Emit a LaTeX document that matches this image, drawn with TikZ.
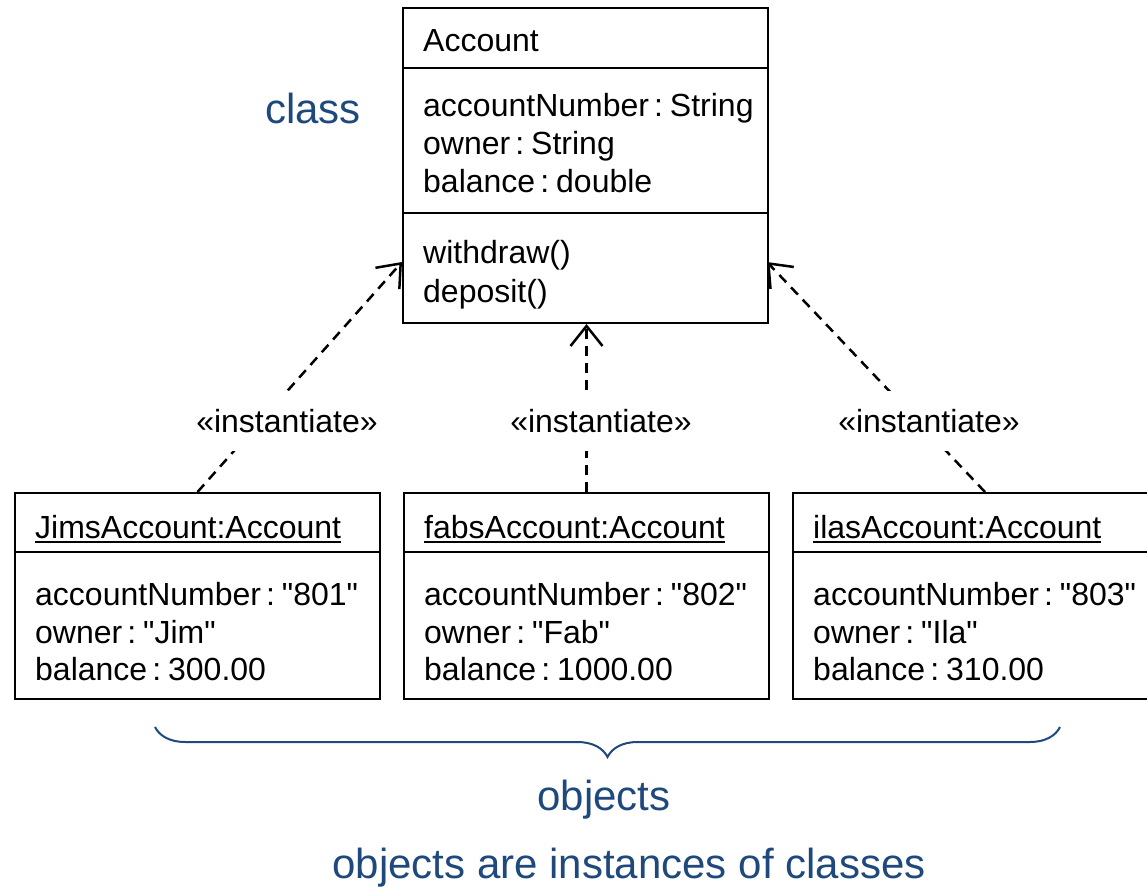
\documentclass[tikz,border=0pt]{standalone}
\usepackage{fontspec}
\setmainfont{Liberation Sans}
\usetikzlibrary{arrows.meta,decorations.pathreplacing}
\definecolor{umlblue}{RGB}{31,73,125}
% underlined object name with a fixed rule
\newcommand\uname[1]{\setbox0\hbox{#1}\rlap{\rule[-5pt]{\wd0}{2pt}}\box0}
% attribute separator and straight quotes
\newcommand\sep{\kern5pt:\kern7pt}
\newcommand\qt[1]{\textquotedbl#1\textquotedbl}
\begin{document}
\begin{tikzpicture}[x=1pt,y=-1pt,
  umlbox/.style={draw, line width=2pt, inner sep=0pt, anchor=north west},
  sepline/.style={line width=2pt},
  txt/.style={anchor=base west, inner sep=0pt, font=\fontsize{32}{38}\selectfont},
  lbl/.style={fill=white, inner xsep=4pt, inner ysep=18pt, font=\fontsize{32}{38}\selectfont},
  note/.style={text=umlblue, inner sep=0pt, font=\fontsize{42}{50}\selectfont},
  inst/.style={line width=2.5pt, dash pattern=on 10pt off 7pt,
    -{Straight Barb[length=20pt,width=32pt,line width=2.5pt]}},
  bracestyle/.style={umlblue, line width=2pt, decorate,
    decoration={brace, amplitude=30pt, mirror}}
]
\useasboundingbox (0,0) rectangle (1147,890);

% class box
\node[umlbox, minimum width=365pt, minimum height=315pt] (cls) at (402,7) {};
\draw[sepline] (402,68) -- (767,68);
\draw[sepline] (402,213) -- (767,213);
\node[txt] (clsname) at (423,52) {Account};
\node[txt] (clsa1) at (423,117) {accountNumber\sep String};
\node[txt] (clsa2) at (423,155) {owner\sep String};
\node[txt] (clsa3) at (423,193) {balance\sep double};
\node[txt] (clsm1) at (423,264) {withdraw()};
\node[txt] (clsm2) at (423,302) {deposit()};

% object boxes
\node[umlbox, minimum width=365pt, minimum height=206pt] (jim) at (14,492) {};
\node[umlbox, minimum width=365pt, minimum height=206pt] (fab) at (403,492) {};
\node[umlbox, minimum width=375pt, minimum height=206pt] (ila) at (792,492) {};
\draw[sepline] (14,552) -- (379,552);
\draw[sepline] (403,552) -- (768,552);
\draw[sepline] (792,552) -- (1167,552);

\node[txt] (jimname) at (35,538) {\uname{JimsAccount:Account}};
\node[txt] (jima1) at (35,605) {accountNumber\sep\qt{801}};
\node[txt] (jima2) at (35,643) {owner\sep\qt{Jim}};
\node[txt] (jima3) at (35,680) {balance\sep 300.00};

\node[txt] (fabname) at (424,538) {\uname{fabsAccount:Account}};
\node[txt] (faba1) at (424,605) {accountNumber\sep\qt{802}};
\node[txt] (faba2) at (424,643) {owner\sep\qt{Fab}};
\node[txt] (faba3) at (424,680) {balance\sep 1000.00};

\node[txt] (ilaname) at (813,538) {\uname{ilasAccount:Account}};
\node[txt] (ilaa1) at (813,605) {accountNumber\sep\qt{803}};
\node[txt] (ilaa2) at (813,643) {owner\sep\qt{Ila}};
\node[txt] (ilaa3) at (813,680) {balance\sep 310.00};

% instantiation dependencies
\coordinate (tipL) at (402,262);
\coordinate (tipR) at (767,262);
\coordinate (ilaTop) at (985,492);
\draw[inst] (jim.north) -- (tipL);
\draw[inst] (fab.north) -- (fab.north |- cls.south);
\draw[inst] (ilaTop) -- (tipR);
\node[lbl] (lblL) at (287,421) {«instantiate»};
\node[lbl] (lblM) at (601,421) {«instantiate»};
\node[lbl] (lblR) at (929,421) {«instantiate»};

% annotations
\node[note] (clsnote) at (313,108) {class};
\coordinate (braceA) at (155,727);
\coordinate (braceB) at (1060,727);
\draw[bracestyle] (braceA) -- (braceB);
\node[note] (objnote) at (604,800) {objects};
\node[note] (caption) at (629,868) {objects are instances of classes};
\end{tikzpicture}
\end{document}
